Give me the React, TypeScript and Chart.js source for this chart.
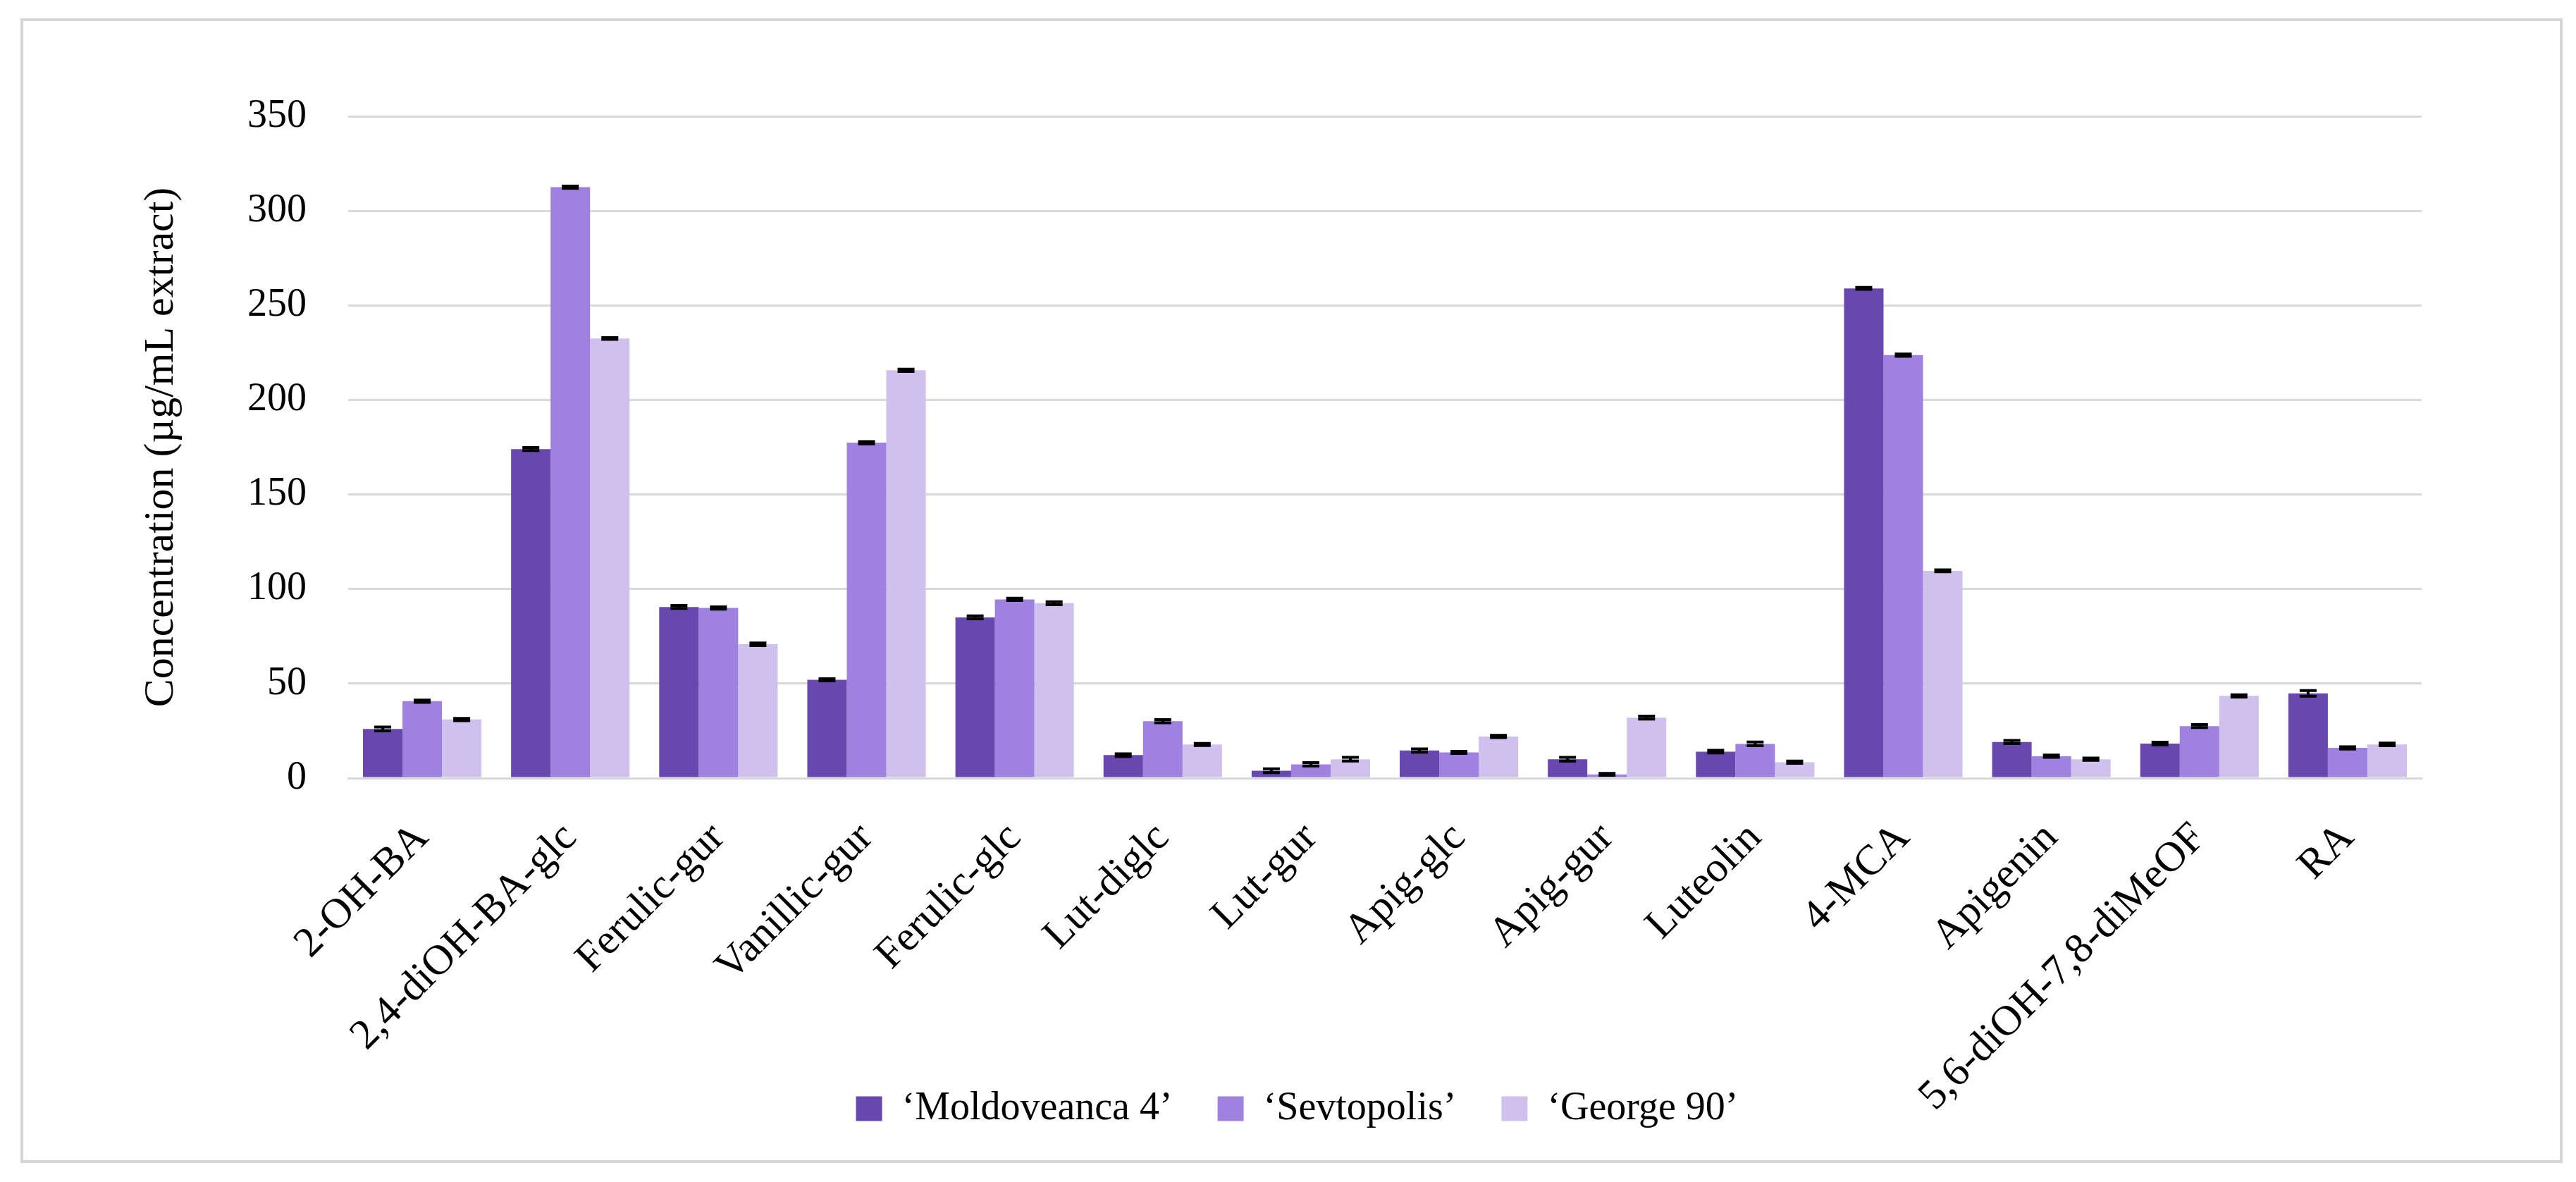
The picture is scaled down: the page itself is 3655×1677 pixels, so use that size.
import React, { useEffect, useRef } from "react";
import { Chart, registerables } from "chart.js";

Chart.register(...registerables);

const categories = [
  "2-OH-BA",
  "2,4-diOH-BA-glc",
  "Ferulic-gur",
  "Vanillic-gur",
  "Ferulic-glc",
  "Lut-diglc",
  "Lut-gur",
  "Apig-glc",
  "Apig-gur",
  "Luteolin",
  "4-MCA",
  "Apigenin",
  "5,6-diOH-7,8-diMeOF",
  "RA",
];

const seriesNames = ["\u2018Moldoveanca 4\u2019", "\u2018Sevtopolis\u2019", "\u2018George 90\u2019"];

const moldoveanca = [26, 174, 90.5, 52, 85, 12.2, 3.9, 14.6, 10, 14, 259, 19.1, 18.3, 44.8];
const sevtopolis = [40.7, 312.5, 90, 177.4, 94.5, 30.1, 7.3, 13.6, 2, 18.1, 223.7, 11.6, 27.5, 16];
const george90 = [31, 232.5, 70.8, 215.7, 92.5, 17.8, 10, 22, 32, 8.4, 109.6, 10, 43.5, 17.8];

const moldoveancaErr = [1, 0.8, 0.8, 0.6, 0.8, 0.7, 1, 0.9, 1, 0.7, 0.5, 0.8, 0.7, 1.5];
const sevtopolisErr = [0.6, 0.6, 0.6, 0.6, 0.6, 0.8, 0.9, 0.6, 0.5, 1, 0.6, 0.6, 0.8, 0.6];
const george90Err = [0.6, 0.5, 0.7, 0.6, 0.8, 0.6, 1, 0.6, 0.8, 0.6, 0.5, 0.6, 0.6, 0.7];

const yTicks = [0, 50, 100, 150, 200, 250, 300, 350];

const colors = ["#6847ae", "#9f81e0", "#cfc0ee"];
const FONT = "'Liberation Serif', 'Times New Roman', serif";

const errorBarPlugin = {
  id: "errorBars",
  afterDatasetsDraw(chart: any) {
    const ctx = chart.ctx;
    const yScale = chart.scales.y;
    const errs = [moldoveancaErr, sevtopolisErr, george90Err];
    chart.data.datasets.forEach((ds: any, i: number) => {
      const meta = chart.getDatasetMeta(i);
      meta.data.forEach((bar: any, j: number) => {
        const v = ds.data[j];
        const e = errs[i][j];
        const yTop = yScale.getPixelForValue(v + e);
        const yBot = yScale.getPixelForValue(v - e);
        const x = bar.x;
        const half = 12;
        ctx.save();
        ctx.strokeStyle = "#000";
        ctx.lineWidth = 4;
        ctx.beginPath();
        ctx.moveTo(x, yTop);
        ctx.lineTo(x, yBot);
        ctx.moveTo(x - half, yTop);
        ctx.lineTo(x + half, yTop);
        ctx.moveTo(x - half, yBot);
        ctx.lineTo(x + half, yBot);
        ctx.stroke();
        ctx.restore();
      });
    });
  },
};

const frameBorderPlugin = {
  id: "frameBorder",
  beforeDraw(chart: any) {
    const ctx = chart.ctx;
    ctx.save();
    ctx.fillStyle = "#ffffff";
    ctx.fillRect(0, 0, chart.width, chart.height);
    ctx.strokeStyle = "#d6d6d6";
    ctx.lineWidth = 4;
    ctx.strokeRect(31, 28, 3603, 1620);
    ctx.restore();
    if (chart.legend && !chart.legend._shifted) {
      chart.legend.left += 26;
      chart.legend.right += 26;
      chart.legend._shifted = true;
    }
  },
};

export default function App() {
  const canvasRef = useRef<HTMLCanvasElement | null>(null);

  useEffect(() => {
    if (!canvasRef.current) return;
    const chart = new Chart(canvasRef.current, {
      type: "bar",
      data: {
        labels: categories,
        datasets: [moldoveanca, sevtopolis, george90].map((d, i) => ({
          label: seriesNames[i],
          data: d,
          backgroundColor: colors[i],
          borderWidth: 0,
          categoryPercentage: 0.8,
          barPercentage: 1.0,
        })),
      },
      options: {
        responsive: false,
        animation: false,
        devicePixelRatio: 1,
        layout: { padding: { left: 193, right: 219, top: 165, bottom: 66 } },
        plugins: {
          legend: {
            position: "bottom",
            labels: {
              font: { family: FONT, size: 56 },
              color: "#000",
              boxWidth: 37,
              boxHeight: 35,
              padding: 64,
            },
          },
          tooltip: { enabled: false },
          title: { display: false },
        },
        scales: {
          x: {
            grid: { display: false, drawTicks: false },
            border: { display: true, color: "#d9d9d9", width: 3 },
            ticks: {
              font: { family: FONT, size: 60 },
              color: "#000",
              maxRotation: 45,
              minRotation: 45,
              padding: 50,
              autoSkip: false,
            },
            afterFit(scale: any) {
              scale.height = 377;
              scale._computeLabelArea = () => undefined;
            },
          },
          y: {
            min: 0,
            max: 350,
            afterBuildTicks(scale: any) {
              scale.ticks = yTicks.map((v) => ({ value: v }));
            },
            grid: { color: "#d9d9d9", lineWidth: 3, drawTicks: false },
            border: { display: false },
            ticks: {
              font: { family: FONT, size: 56 },
              color: "#000",
              padding: 59,
            },
            title: {
              display: true,
              text: "Concentration (\u00b5g/mL extract)",
              font: { family: FONT, size: 60 },
              color: "#000",
              padding: 0,
            },
            afterFit(scale: any) {
              scale.width = 301;
            },
          },
        },
      },
      plugins: [frameBorderPlugin, errorBarPlugin],
    });
    return () => chart.destroy();
  }, []);

  return (
    <div style={{ position: "fixed", left: 0, top: 0, width: 3655, height: 1677, background: "#fff" }}>
      <canvas ref={canvasRef} width={3655} height={1677} style={{ width: 3655, height: 1677, display: "block" }} />
    </div>
  );
}
